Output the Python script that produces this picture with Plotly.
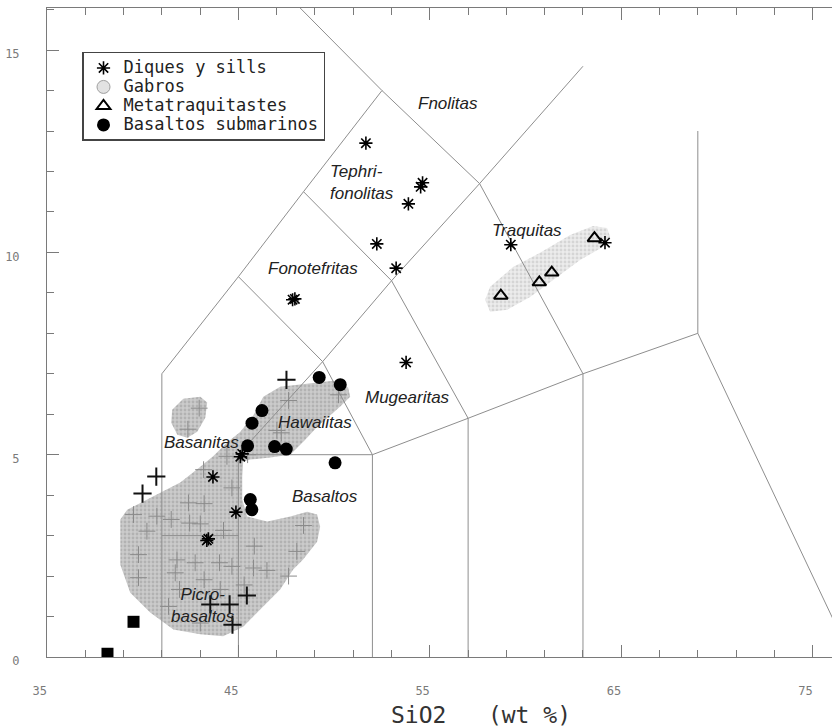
import plotly.graph_objects as go

# ---------------- axis ticks ----------------
x_ticks = [35, 45, 55, 65, 75]
x_tick_labels = ["35", "45", "55", "65", "75"]
y_ticks = [0, 5, 10, 15]
y_tick_labels = ["0", "5", "10", "15"]

# ---------------- TAS field boundaries (SiO2, Na2O+K2O) ----------------
bnd_1_x = [41, 41, 45, 48.4, 52.5]
bnd_1_y = [0, 7, 9.4, 11.5, 14]
bnd_2_x = [48.1, 52.5, 57.6, 63]
bnd_2_y = [16.1, 14, 11.7, 14.6]
bnd_3_x = [41, 45]
bnd_3_y = [3, 3]
bnd_4_x = [45, 45, 49.4, 53, 57.6, 63, 69, 77]
bnd_4_y = [0, 5, 7.3, 9.3, 11.7, 7, 8, 0]
bnd_5_x = [45, 52, 57, 63]
bnd_5_y = [5, 5, 5.9, 7]
bnd_6_x = [52, 52, 49.4, 45]
bnd_6_y = [0, 5, 7.3, 9.4]
bnd_7_x = [57, 57, 53, 48.4]
bnd_7_y = [0, 5.9, 9.3, 11.5]
bnd_8_x = [63, 63]
bnd_8_y = [0, 7]
bnd_9_x = [69, 69]
bnd_9_y = [8, 13]

# ---------------- Gabros fields ----------------
gabro_main_x = [38.83, 39.19, 40.92, 41.96, 43.01, 43.68, 44.42, 45.09, 45.77, 46.30, 47.18,
                49.95, 50.73, 50.84, 50.32, 49.12, 48.49, 47.71, 46.66, 45.62, 45.25, 45.20,
                45.20, 45.46, 46.51, 47.71, 48.59, 49.11, 49.27, 49.11, 48.38, 47.86, 47.18,
                46.14, 45.25, 44.20, 43.01, 41.60, 40.39, 39.35, 38.83]
gabro_main_y = [3.40, 3.64, 4.06, 4.31, 4.70, 4.96, 5.31, 5.56, 5.96, 6.43, 6.68,
                6.83, 6.66, 6.43, 6.19, 5.69, 5.37, 5.00, 4.93, 4.88, 4.83, 4.46,
                3.89, 3.47, 3.35, 3.47, 3.59, 3.52, 3.22, 2.85, 2.41, 2.16, 1.67,
                1.17, 0.75, 0.51, 0.56, 0.68, 1.10, 1.59, 2.28]
gabro_small_x = [41.54, 42.12, 43.01, 43.37, 43.27, 42.85, 42.33, 41.81, 41.49]
gabro_small_y = [6.11, 6.38, 6.43, 6.29, 5.91, 5.57, 5.42, 5.49, 5.79]
traq_field_x = [57.89, 58.15, 59.35, 60.76, 62.33, 63.53, 64.26, 64.42, 64.05, 62.85,
                61.44, 60.24, 59.04, 58.15]
traq_field_y = [8.83, 9.15, 9.64, 9.99, 10.43, 10.65, 10.60, 10.38, 10.14, 9.81,
                9.32, 8.90, 8.58, 8.53]

# ---------------- samples ----------------
diques_x = [51.66, 54.52, 54.62, 53.88, 52.23, 53.24, 47.83, 47.95, 53.76, 59.23, 64.15,
            45.10, 45.20, 43.67, 44.87, 43.35, 43.43]
diques_y = [12.70, 11.62, 11.72, 11.20, 10.21, 9.61, 8.83, 8.85, 7.28, 10.19, 10.24,
            4.95, 5.02, 4.45, 3.58, 2.88, 2.92]

meta_x = [58.71, 60.72, 61.37, 63.60]
meta_y = [8.93, 9.26, 9.50, 10.35]

basalt_x = [49.22, 50.32, 46.23, 45.71, 45.48, 46.89, 47.50, 50.05, 45.62, 45.70]
basalt_y = [6.91, 6.73, 6.09, 5.78, 5.22, 5.20, 5.14, 4.80, 3.89, 3.64]

square_x = [38.16, 39.52]
square_y = [0.08, 0.87]

plus_black_x = [47.51, 40.71, 39.99, 45.44, 44.54, 44.69, 43.53]
plus_black_y = [6.85, 4.46, 4.04, 1.52, 1.30, 0.80, 1.30]

plus_gray_x = [42.95, 42.36, 47.62, 50.23, 47.01, 47.24, 44.40, 45.48, 43.18, 44.66,
               42.39, 43.21, 39.52, 40.74, 41.49, 42.45, 43.01, 40.22, 44.22, 48.40,
               45.83, 48.05, 39.78, 41.79, 42.74, 44.01, 45.79, 46.49, 41.70, 44.66,
               39.78, 43.21, 47.62, 45.30, 41.92, 44.05, 41.35, 43.01]
plus_gray_y = [6.15, 5.63, 6.34, 6.48, 5.60, 5.54, 4.96, 5.00, 4.63, 4.18,
               3.81, 3.79, 3.52, 3.48, 3.40, 3.31, 3.29, 3.11, 3.13, 3.25,
               2.74, 2.61, 2.53, 2.40, 2.33, 2.33, 2.20, 2.14, 2.08, 2.24,
               1.96, 1.91, 2.00, 1.78, 1.67, 1.67, 1.25, 0.84]

# ---------------- field names ----------------
field_names = ["Fnolitas", "Tephri-<br>fonolitas", "Fonotefritas", "Traquitas", "Mugearitas",
               "Hawaiitas", "Basanitas", "Basaltos", "Picro-<br>basaltos"]
field_x = [55.96, 49.69, 48.89, 60.08, 53.81, 49.01, 43.09, 49.53, 43.16]
field_y = [13.67, 11.72, 9.61, 10.53, 6.41, 5.79, 5.29, 3.97, 1.27]
field_anchor = ["center", "left", "center", "center", "center", "center", "center", "center", "center"]

legend_names = ["Diques y sills", "Gabros", "Metatraquitastes", "Basaltos submarinos"]

AX = "#7a7a7a"
LINE = "#8e8e8e"
MONO = "DejaVu Sans Mono"


def legend_label(s):
    return "<span style='font-size:17px'>" + s + "</span>"


fig = go.Figure()

# gabbro fields
for fx, fy, bg, fg in [(gabro_main_x, gabro_main_y, "#cbcbcb", "#999999"),
                       (gabro_small_x, gabro_small_y, "#cbcbcb", "#999999"),
                       (traq_field_x, traq_field_y, "#ececec", "#bdbdbd")]:
    fig.add_trace(go.Scatter(
        x=fx, y=fy, mode="lines", fill="toself",
        line=dict(width=0, color="rgba(0,0,0,0)"),
        fillcolor=bg,
        fillpattern=dict(shape=".", bgcolor=bg, fgcolor=fg, size=4, solidity=0.4),
        showlegend=False, hoverinfo="skip"))

# boundaries
for bx, by in [(bnd_1_x, bnd_1_y), (bnd_2_x, bnd_2_y), (bnd_3_x, bnd_3_y), (bnd_4_x, bnd_4_y),
               (bnd_5_x, bnd_5_y), (bnd_6_x, bnd_6_y), (bnd_7_x, bnd_7_y), (bnd_8_x, bnd_8_y),
               (bnd_9_x, bnd_9_y)]:
    fig.add_trace(go.Scatter(x=bx, y=by, mode="lines", line=dict(color=LINE, width=1),
                             showlegend=False, hoverinfo="skip"))

fig.add_trace(go.Scatter(x=plus_gray_x, y=plus_gray_y, mode="markers", showlegend=False,
                         marker=dict(symbol="cross-thin", size=12, color="#8a8a8a",
                                     line=dict(width=1, color="#8a8a8a"))))
fig.add_trace(go.Scatter(x=plus_black_x, y=plus_black_y, mode="markers", showlegend=False,
                         marker=dict(symbol="cross-thin", size=13, color="#111",
                                     line=dict(width=2, color="#111"))))
fig.add_trace(go.Scatter(x=square_x, y=square_y, mode="markers", showlegend=False,
                         marker=dict(symbol="square", size=12, color="#000")))

fig.add_trace(go.Scatter(x=diques_x, y=diques_y, mode="markers", name=legend_label(legend_names[0]),
                         marker=dict(symbol="asterisk-open", size=11, color="#000",
                                     line=dict(width=1.6, color="#000"))))
fig.add_trace(go.Scatter(x=[None], y=[None], mode="markers", name=legend_label(legend_names[1]),
                         marker=dict(symbol="circle", size=13, color="#e2e2e2",
                                     line=dict(width=1, color="#a0a0a0"))))
fig.add_trace(go.Scatter(x=meta_x, y=meta_y, mode="markers", name=legend_label(legend_names[2]),
                         marker=dict(symbol="triangle-up-open", size=12, color="#000",
                                     line=dict(width=2, color="#000"))))
fig.add_trace(go.Scatter(x=basalt_x, y=basalt_y, mode="markers", name=legend_label(legend_names[3]),
                         marker=dict(symbol="circle", size=13, color="#000")))

for name, fx, fy, anc in zip(field_names, field_x, field_y, field_anchor):
    fig.add_annotation(x=fx, y=fy, text=name, showarrow=False, xanchor=anc, align=anc,
                       font=dict(family="Liberation Sans, Arial", size=17, color="#222", style="italic"))

fig.add_annotation(x=0.553, y=-0.090, xref="paper", yref="paper", xanchor="center", yanchor="middle",
                   text="SiO2\u00a0\u00a0\u00a0(wt\u00a0%)", showarrow=False,
                   font=dict(family=MONO, size=23, color="#333"))

fig.update_layout(
    width=832, height=727, autosize=False,
    margin=dict(l=47, r=0, t=8, b=69.5, autoexpand=False),
    paper_bgcolor="white", plot_bgcolor="white",
    showlegend=True,
    legend=dict(x=0.0446, y=0.9323, xanchor="left", yanchor="top",
                bordercolor="#444", borderwidth=1.5, bgcolor="white",
                font=dict(family=MONO, size=12, color="#222"),
                itemwidth=30, tracegroupgap=0),
    xaxis=dict(range=[35, 76.01], showgrid=False, zeroline=False, automargin=False,
               showline=True, linecolor=AX, linewidth=1, mirror="ticks",
               ticks="inside", ticklen=12, tickcolor=AX, tickwidth=1,
               tickvals=x_ticks, ticktext=[t + "\u00a0\u00a0" for t in x_tick_labels],
               tickfont=dict(family=MONO, size=12, color=AX),
               ticklabelstandoff=23),
    yaxis=dict(range=[0, 16.04], showgrid=False, zeroline=False, automargin=False,
               showline=True, linecolor=AX, linewidth=1, mirror=False,
               ticks="inside", ticklen=12, tickcolor=AX, tickwidth=1,
               tickvals=y_ticks, ticktext=y_tick_labels,
               tickfont=dict(family=MONO, size=12, color=AX),
               ticklabelstandoff=24, ticklabelshift=4,
               minor=dict(tick0=0, dtick=1, ticks="inside", ticklen=7, tickcolor=AX, showgrid=False)),
)
fig.update_xaxes(minor=dict(tick0=35, dtick=2, ticks="inside", ticklen=7, tickcolor=AX, showgrid=False))

fig.write_html("out.html", config={"displayModeBar": False},
               post_script="document.body.style.margin='0';document.body.style.overflow='hidden';")
